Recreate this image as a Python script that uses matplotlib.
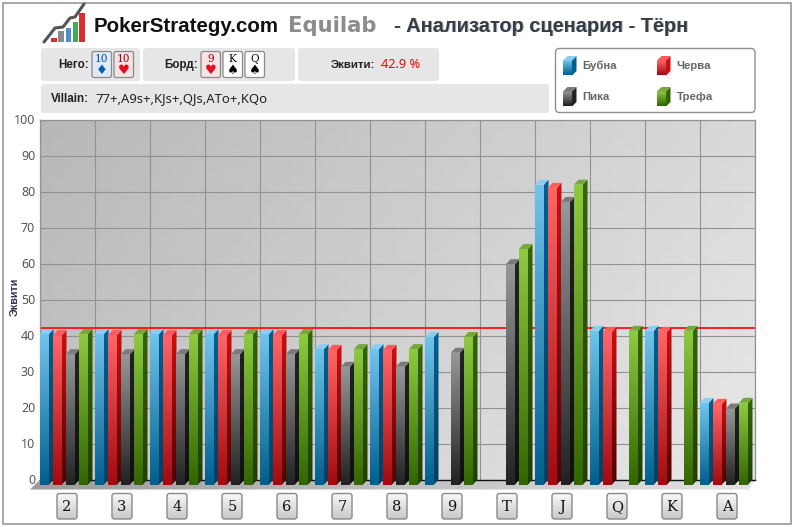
import numpy as np
import matplotlib
matplotlib.use('Agg')
import matplotlib.pyplot as plt
from matplotlib.colors import LinearSegmentedColormap as LSC
from matplotlib.patches import FancyBboxPatch, Polygon, Rectangle

ranks = ['2', '3', '4', '5', '6', '7', '8', '9', 'T', 'J', 'Q', 'K', 'A']
diamonds = [41.8, 41.8, 41.8, 41.8, 41.8, 37.6, 37.6, 41.0, None, 83.3, 42.7, 42.7, 22.7]
hearts = [41.5, 41.5, 41.5, 41.5, 41.5, 37.4, 37.4, None, None, 82.4, 42.4, 42.4, 22.4]
spades = [36.2, 36.2, 36.2, 36.2, 36.2, 32.7, 32.7, 36.6, 61.2, 78.5, None, None, 21.1]
clubs = [41.8, 41.8, 41.8, 41.8, 41.8, 37.6, 37.6, 41.0, 65.4, 83.3, 42.7, 42.7, 22.7]
series_names = ['Бубна', 'Черва', 'Пика', 'Трефа']
hero_equity = 42.0
y_ticks = list(range(0, 101, 10))

palette = {
    'Бубна': dict(front=('#70c4ec', '#005f8e'), side=('#00608f', '#003f60'), top=('#3d8fc0', '#8ccdf0')),
    'Черва': dict(front=('#ff6466', '#a20a10'), side=('#cc0f10', '#500000'), top=('#d01418', '#ff5a5a')),
    'Пика': dict(front=('#979797', '#222222'), side=('#222222', '#101010'), top=('#3a3a3a', '#7a7a7a')),
    'Трефа': dict(front=('#8dca40', '#336600'), side=('#336600', '#1f3f00'), top=('#3f7010', '#76a840')),
}

SANS = ['Noto Sans', 'DejaVu Sans']
BOLD = ['Liberation Sans', 'DejaVu Sans']
plt.rcParams['font.family'] = SANS
W, H = 794, 527
fig = plt.figure(figsize=(W / 100, H / 100), dpi=100, facecolor='white')

pg = fig.add_axes([0, 0, 1, 1], zorder=0)
pg.set_xlim(0, W)
pg.set_ylim(H, 0)
pg.axis('off')


def rounded(x0, y0, x1, y1, r=3, **kw):
    p = FancyBboxPatch((x0 + r, y0 + r), x1 - x0 - 2 * r, y1 - y0 - 2 * r,
                       boxstyle=f'round,pad={r},rounding_size={r}', **kw)
    pg.add_patch(p)
    return p


pg.add_patch(Rectangle((2.5, 2.5), 788.5, 521.5, fc='white', ec='#909090', lw=1.1))

# logo
pg.plot([44, 55, 63, 70, 75, 84], [42, 28, 27, 18, 17, 4], color='#555555', lw=2.2, solid_capstyle='round')
for x0, top, c in [(51, 38, '#d83030'), (58, 31, '#8a8a8a'), (65.5, 28, '#4f8fd0'),
                   (72.5, 22, '#48a858'), (79, 13, '#d83030')]:
    pg.add_patch(Rectangle((x0, top), 5.5, 42 - top, fc=c, ec='none'))

# header
pg.text(93.5, 26, 'PokerStrategy.com', fontsize=14.8, fontweight='bold', color='#111111', va='center', family=BOLD)
pg.text(288, 26, 'Equilab', fontsize=15.2, fontweight='bold', color='#8c8c8c', va='center', family=['DejaVu Sans'])
for dx, c in [(0.7, '#9fc3e4'), (0, '#3c3c3c')]:
    pg.text(394 + dx, 26 + dx, '- Анализатор сценария - Тёрн', fontsize=14.4, fontweight='bold', color=c,
            va='center', family=['Liberation Sans'])

# panels
for box in [(41, 48, 140, 81), (143, 48, 295, 81), (298, 48, 439, 81), (41, 84, 549, 113)]:
    rounded(*box, fc='#e6e6e6', ec='none')
LAB = dict(fontweight='bold', color='#222222', va='center', family=BOLD)
pg.text(58, 65, 'Него:', fontsize=8.4, **LAB)
pg.text(164, 65, 'Борд:', fontsize=8.4, **LAB)
pg.text(331, 65.5, 'Эквити:', fontsize=8.2, **LAB)
pg.text(381, 65, '42.9 %', fontsize=9.2, color='#ff0000', va='center')
pg.text(51, 99, 'Villain:', fontsize=8.4, **LAB)
pg.text(95, 99, '77+,A9s+,KJs+,QJs,ATo+,KQo', fontsize=9.4, color='#222222', va='center')

cards = [(92, '10', '♦', '#004f9f', '#dfeaf6'), (114, '10', '♥', '#a00010', '#f6e3e3'),
         (201, '9', '♥', '#a00010', '#f6e3e3'), (223, 'K', '♠', '#000000', '#ffffff'),
         (245, 'Q', '♠', '#000000', '#ffffff')]
for x0, rank, suit, c, fill in cards:
    rounded(x0, 51.5, x0 + 19.5, 77.5, r=2, fc=fill, ec='#8a8a8a', lw=0.9)
    pg.text(x0 + 9.8, 58.5, rank, fontsize=7.6, color=c, ha='center', va='center', family=['DejaVu Serif'])
    suit_c = '#0a5fb0' if suit == '♦' else ('#e01020' if suit == '♥' else '#000000')
    pg.text(x0 + 9.8, 71, suit, fontsize=9.5, color=suit_c, ha='center', va='center', family=['DejaVu Sans'])

rounded(555.5, 48.5, 755, 112.5, r=4, fc='white', ec='#8f8f8f', lw=1)


def icon(x0, y0, name):
    pal = palette[name]
    w, d, h = 9, 4.5, 15
    pg.imshow(np.linspace(0, 1, 32)[:, None], cmap=LSC.from_list('g', list(pal['front'])), aspect='auto',
              extent=(x0, x0 + w, y0 + d + h, y0 + d), zorder=3)
    pg.add_patch(Polygon([(x0 + w, y0 + d), (x0 + w + d, y0), (x0 + w + d, y0 + h), (x0 + w, y0 + h + d)],
                         fc=pal['side'][0], ec='none', zorder=3))
    pg.add_patch(Polygon([(x0, y0 + d), (x0 + d, y0), (x0 + w + d, y0), (x0 + w, y0 + d)],
                         fc=pal['top'][1], ec='none', zorder=3))


for (x0, y0), name in zip([(563, 56), (657, 56), (563, 87), (657, 87)], series_names):
    icon(x0, y0, name)
    pg.text(x0 + 19.5, y0 + 10, name, fontsize=8.2, fontweight='bold', color='#666666', va='center', family=BOLD)

for i in range(len(ranks)):
    cx = 67 + 55 * i
    p = rounded(cx - 10, 493.5, cx + 10, 519, r=2.5, fc='none', ec='#8a8a8a', lw=1, zorder=3)
    im = pg.imshow(np.linspace(0, 1, 32)[:, None], cmap=LSC.from_list('g', ['#fafafa', '#c8c8c8']), aspect='auto',
                   extent=(cx - 10, cx + 10, 519, 493.5), zorder=2)
    im.set_clip_path(p)
pg.set_xlim(0, W)
pg.set_ylim(H, 0)

# chart
L, R, T, B = 40, 755, 119.5, 479.5
ax = fig.add_axes([L / W, 1 - B / H, (R - L) / W, (B - T) / H], zorder=1)
ax.patch.set_visible(False)
n = len(ranks)
px_x = n / (R - L)
px_y = 100 / (B - T)
yy, xx = np.mgrid[0:1:60j, 0:1:60j]
ax.imshow(0.7 * xx + 0.3 * yy, cmap=LSC.from_list('bg', ['#b8b8b8', '#e8e8e8']), aspect='auto', extent=(0, n, 0, 100),
          origin='upper', vmin=0, vmax=1, zorder=0)
ax.set_axisbelow(True)
ax.grid(True, color='#929292', lw=0.8, zorder=0.5)
ax.set_xticks(np.arange(n + 1), minor=False)
ax.set_xticklabels([])
ax.set_xticks(np.arange(n) + 0.49, minor=True)
ax.set_xticklabels(ranks, minor=True, family=['DejaVu Serif'], fontsize=10.5, color='#111111')
ax.set_yticks(y_ticks)
ax.set_yticklabels([str(t) for t in y_ticks], fontsize=9, color='#555555')
ax.tick_params(axis='both', which='both', length=0)
ax.tick_params(axis='y', pad=3.5)
ax.tick_params(axis='x', which='minor', pad=15)
ax.set_ylabel('Эквити', fontsize=7.8, fontweight='bold', color='#333355', family=BOLD)
ax.yaxis.set_label_coords(-0.028, 0.507)
for s in ['left', 'top', 'right']:
    ax.spines[s].set_color('#929292')
    ax.spines[s].set_linewidth(0.9)
ax.spines['bottom'].set_color('#111111')
ax.spines['bottom'].set_linewidth(1.0)

# floor
depth_floor = 10
floor = Polygon([(0, 0), (n, 0), (n - 6.5 * px_x, -depth_floor * px_y), (-depth_floor * px_x, -depth_floor * px_y)],
                fc='none', ec='none', clip_on=False, zorder=1)
ax.add_patch(floor)
fl = ax.imshow(np.linspace(0, 1, 64)[None, :], cmap=LSC.from_list('f', ['#9c9c9c', '#e2e2e2']), aspect='auto',
               extent=(-depth_floor * px_x, n, -depth_floor * px_y, 0), zorder=1)
fl.set_clip_box(fig.bbox)
fl.set_clip_path(floor)

ax.axhline(hero_equity, color='#ff0000', lw=1.2, zorder=1.5)

bar_w = 9 * px_x
step = 13 * px_x
dx = 4.5 * px_x
dy = 5 * px_y
for s, (name, vals) in enumerate(zip(series_names, [diamonds, hearts, spades, clubs])):
    pal = palette[name]
    for g, v in enumerate(vals):
        if v is None:
            continue
        x0 = g + s * step
        x1 = x0 + bar_w
        y0 = -dy
        y1 = v - dy
        z = 3 + s * 0.1 + g
        ax.imshow(np.linspace(0, 1, 64)[:, None], cmap=LSC.from_list('g', list(pal['front'])), aspect='auto',
                  extent=(x0, x1, y0, y1), origin='upper', zorder=z, clip_on=False, interpolation='bilinear')
        side = Polygon([(x1, y0), (x1 + dx, y0 + dy), (x1 + dx, y1 + dy), (x1, y1)], fc='none', ec='none',
                       clip_on=False, zorder=z)
        ax.add_patch(side)
        im2 = ax.imshow(np.linspace(0, 1, 32)[:, None], cmap=LSC.from_list('g', list(pal['side'])), aspect='auto',
                        extent=(x1, x1 + dx, y0, y1 + dy), origin='upper', zorder=z)
        im2.set_clip_box(fig.bbox)
        im2.set_clip_path(side)
        ax.add_patch(Polygon([(x0, y1), (x0 + dx, y1 + dy), (x1 + dx, y1 + dy), (x1, y1)], fc=pal['top'][1],
                             ec='none', clip_on=False, zorder=z))
ax.set_xlim(0, n)
ax.set_ylim(0, 100)
fig.savefig('out.png', dpi=100)
